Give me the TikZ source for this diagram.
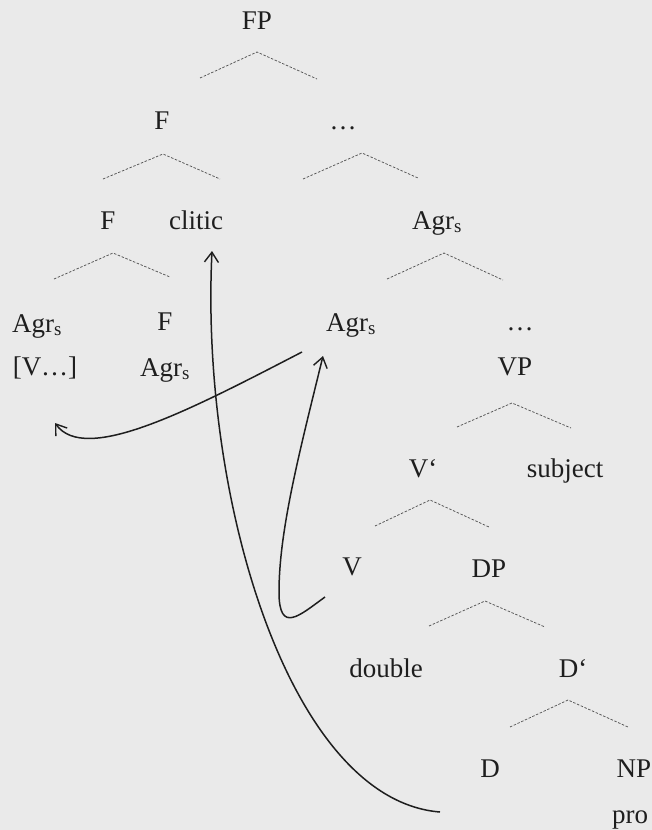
\documentclass[tikz,border=0pt]{standalone}
\usepackage{fontspec}
\setmainfont{Liberation Serif}
\usetikzlibrary{arrows.meta}
\definecolor{bg}{HTML}{EAEAEA}
\definecolor{ink}{HTML}{1E1E1E}
\definecolor{branchc}{HTML}{555555}
\begin{document}
\begin{tikzpicture}[x=1pt,y=-1pt,
  lab/.style={anchor=base, inner sep=0pt, text=ink, font=\fontsize{27}{30}\selectfont},
  branch/.style={draw=branchc, line width=0.75pt, dash pattern=on 2.5pt off 1.6pt},
  mv/.style={draw=ink, line width=1.5pt, -{Straight Barb[length=10pt,width=14pt,line width=1.4pt]}}]
\fill[bg] (0,0) rectangle (652,830);
\useasboundingbox (0,0) rectangle (652,830);

% labels
\node[lab] (fp) at (257,29) {FP};
\node[lab] (f1) at (162,129) {F};
\node[lab] (dots1) at (343,129) {\ldots};
\node[lab] (f2) at (108,229) {F};
\node[lab] (clitic) at (196,229) {clitic};
\node[lab] (agr1) at (437,229) {Agr\textsubscript{s}};
\node[lab] (agr2) at (37,332) {Agr\textsubscript{s}};
\node[lab] (f3) at (165,330) {F};
\node[lab] (agr3) at (351,331) {Agr\textsubscript{s}};
\node[lab] (dots2) at (520,330) {\ldots};
\node[lab] (vbr) at (45,375) {[V\ldots]};
\node[lab] (agr4) at (165,376) {Agr\textsubscript{s}};
\node[lab] (vp) at (515,375) {VP};
\node[lab] (vbar) at (423,477) {V`};
\node[lab] (subj) at (565,477) {subject};
\node[lab] (v) at (352,575) {V};
\node[lab] (dp) at (489,577) {DP};
\node[lab] (dbl) at (386,677) {double};
\node[lab] (dbar) at (573,677) {D`};
\node[lab] (d) at (490,777) {D};
\node[lab] (np) at (634,777) {NP};
\node[lab] (pro) at (630,823) {pro};

% branch points
\coordinate (b1) at (257,52);  \coordinate (b1l) at (200,78);  \coordinate (b1r) at (317,79);
\coordinate (b2) at (163,154); \coordinate (b2l) at (103,179); \coordinate (b2r) at (220,179);
\coordinate (b3) at (362,153); \coordinate (b3l) at (303,179); \coordinate (b3r) at (418,178);
\coordinate (b4) at (113,253); \coordinate (b4l) at (54,279);  \coordinate (b4r) at (170,277);
\coordinate (b5) at (444,253); \coordinate (b5l) at (387,279); \coordinate (b5r) at (503,280);
\coordinate (b6) at (512,403); \coordinate (b6l) at (457,427); \coordinate (b6r) at (571,428);
\coordinate (b7) at (430,500); \coordinate (b7l) at (375,526); \coordinate (b7r) at (489,527);
\coordinate (b8) at (485,601); \coordinate (b8l) at (429,626); \coordinate (b8r) at (545,627);
\coordinate (b9) at (568,700); \coordinate (b9l) at (510,727); \coordinate (b9r) at (628,727);
\foreach \b in {b1,b2,b3,b4,b5,b6,b7,b8,b9}
  \draw[branch] (\b l) -- (\b) -- (\b r);

% movement arrows
\coordinate (a1s) at (302,352); \coordinate (a1e) at (55,423);
\draw[mv] (a1s) .. controls (190,410) and (85,465) .. (a1e);
\coordinate (a2s) at (440,812); \coordinate (a2e) at (212,251);
\draw[mv] (a2s) .. controls (290,800) and (200,500) .. (a2e);
\coordinate (a3s) at (325,597); \coordinate (a3m) at (279,592); \coordinate (a3e) at (323,356);
\draw[mv] (a3s) .. controls (300,615) and (279,635) .. (a3m)
               .. controls (279,530) and (300,450) .. (a3e);
\end{tikzpicture}
\end{document}
